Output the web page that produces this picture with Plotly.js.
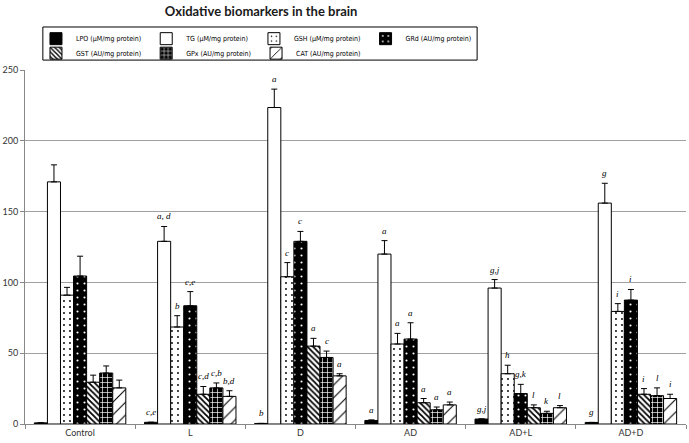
<!DOCTYPE html>
<html>
<head>
<meta charset="utf-8">
<script src="https://cdn.plot.ly/plotly-3.0.1.min.js"></script>
<style>
  html, body { margin: 0; padding: 0; background: #fff; }
  #Graph1 { width: 689px; height: 443px; }
</style>
</head>
<body>
<div id="Graph1"></div>
<script>
// groups on the x axis
let groups = ['Control', 'L', 'D', 'AD', 'AD+L', 'AD+D'];

// one array per biomarker (mean, then upper error)
let LPO = [0.8, 1.2, 0.4, 2.5, 3.5, 1.1];
let LPOerr = [0, 0, 0, 0.4, 0, 0];
let TG = [171, 129, 223.5, 120, 96, 156];
let TGerr = [12, 10.5, 13, 9.5, 6, 14];
let GSH = [91, 68.5, 104, 56.5, 35.5, 79.5];
let GSHerr = [5.5, 8, 10, 7.5, 6, 5.5];
let GRd = [104.5, 83.5, 129, 60, 21.5, 87.5];
let GRderr = [14, 10, 7, 11.5, 6.5, 7.5];
let GST = [29.5, 21, 55, 15, 11.5, 21];
let GSTerr = [5, 5.5, 5.5, 3, 2, 4];
let GPx = [36, 25.5, 47, 10, 7.5, 20];
let GPxerr = [5, 3.5, 4.5, 2, 1.5, 5.5];
let CAT = [25.5, 19.5, 34, 13.5, 11.5, 18];
let CATerr = [5.5, 4, 1.5, 2, 1.5, 3];

// significance letters above each bar
let LPOlab = ['', 'c,e', 'b', 'a', 'g,j', 'g'];
let TGlab = ['', 'a, d', 'a', 'a', 'g,j', 'g'];
let GSHlab = ['', 'b', 'c', 'a', 'h', 'i'];
let GRdlab = ['', 'c,e', 'c', 'a', 'g,k', 'i'];
let GSTlab = ['', 'c,d', 'a', 'a', 'l', 'i'];
let GPxlab = ['', 'c,b', 'c', 'a', 'k', 'l'];
let CATlab = ['', 'b,d', 'a', 'a', 'l', 'i'];

let names = ['LPO (µM/mg protein)', 'TG (µM/mg protein)', 'GSH (µM/mg protein)', 'GRd (AU/mg protein)',
             'GST (AU/mg protein)', 'GPx (AU/mg protein)', 'CAT (AU/mg protein)'];

let narrow = '"DejaVu Sans Condensed", Lato, sans-serif';

function MyChart(){

    let vals = [LPO, TG, GSH, GRd, GST, GPx, CAT];
    let errs = [LPOerr, TGerr, GSHerr, GRderr, GSTerr, GPxerr, CATerr];
    let labs = [LPOlab, TGlab, GSHlab, GRdlab, GSTlab, GPxlab, CATlab];

    let looks = [
        {color: '#000000', pattern: {shape: ''}},
        {color: '#ffffff', pattern: {shape: ''}},
        {color: '#ffffff', pattern: {shape: '.', bgcolor: '#ffffff', fgcolor: '#000000', size: 6, solidity: 0.08}},
        {color: '#000000', pattern: {shape: '.', bgcolor: '#000000', fgcolor: '#ffffff', size: 7, solidity: 0.07}},
        {color: '#ffffff', pattern: {shape: '\\', bgcolor: '#ffffff', fgcolor: '#000000', size: 4, solidity: 0.45}},
        {color: '#000000', pattern: {shape: '+', bgcolor: '#000000', fgcolor: '#ffffff', size: 5, solidity: 0.25}},
        {color: '#ffffff', pattern: {shape: '/', bgcolor: '#ffffff', fgcolor: '#000000', size: 9, solidity: 0.12}}
    ];

    let bargap = 0.17;
    let w = (1 - bargap) / vals.length;

    let data = [];
    let notes = [];

    for(let s = 0; s < vals.length; s++)
    {
        data.push({
            type: 'bar',
            name: names[s],
            x: groups,
            y: vals[s],
            legend: s < 4 ? 'legend' : 'legend2',
            marker: {
                color: looks[s].color,
                pattern: looks[s].pattern,
                line: {color: '#000000', width: 1}
            },
            error_y: {
                type: 'data',
                symmetric: false,
                array: errs[s],
                arrayminus: groups.map(() => 0),
                color: '#000000',
                thickness: 1,
                width: 3
            }
        });

        for(let g = 0; g < groups.length; g++)
        {
            if(labs[s][g] === '') continue;
            notes.push({
                x: g - (1 - bargap) / 2 + (s + 0.5) * w,
                y: vals[s][g] + errs[s][g],
                xref: 'x',
                yref: 'y',
                text: '<i>' + labs[s][g] + '</i>',
                showarrow: false,
                yanchor: 'bottom',
                yshift: 3,
                font: {family: 'Liberation Serif', size: 9, color: '#000000'}
            });
        }
    }

    let L1 = {
        width: 689,
        height: 443,
        margin: {l: 25, r: 3, t: 70, b: 19},
        paper_bgcolor: '#ffffff',
        plot_bgcolor: '#ffffff',
        font: {family: 'Lato', size: 9, color: '#333333'},
        title: {
            text: 'Oxidative biomarkers in the brain',
            font: {family: 'Lato', size: 13, weight: 'bold', color: '#1a1a1a'},
            x: 0.379,
            xanchor: 'center',
            y: 0.975,
            yanchor: 'middle'
        },
        barmode: 'group',
        bargap: bargap,
        bargroupgap: 0,
        showlegend: true,
        legend: {
            orientation: 'h',
            x: 0.0166, xanchor: 'left',
            y: 1.1295, yanchor: 'top',
            font: {family: narrow, size: 7, color: '#000000'},
            itemwidth: 30,
            bgcolor: 'rgba(0,0,0,0)'
        },
        legend2: {
            orientation: 'h',
            x: 0.0166, xanchor: 'left',
            y: 1.0885, yanchor: 'top',
            font: {family: narrow, size: 7, color: '#000000'},
            itemwidth: 30,
            bgcolor: 'rgba(0,0,0,0)'
        },
        shapes: [{
            type: 'rect',
            xref: 'paper', yref: 'paper',
            x0: 0.027, x1: 0.684,
            y0: 1.028, y1: 1.1215,
            line: {color: '#000000', width: 1}
        }],
        xaxis: {
            type: 'category',
            showline: true,
            linecolor: '#888888',
            ticks: 'outside',
            tickson: 'boundaries',
            ticklen: 4,
            tickcolor: '#888888',
            showgrid: false,
            tickfont: {size: 9, color: '#333333'}
        },
        yaxis: {
            range: [0, 250],
            dtick: 50,
            showline: true,
            linecolor: '#888888',
            ticks: 'outside',
            ticklen: 4,
            tickcolor: '#888888',
            gridcolor: '#a0a0a0',
            gridwidth: 1,
            zeroline: false,
            tickfont: {size: 9, color: '#333333'}
        },
        annotations: notes
    };

    Plotly.newPlot('Graph1', data, L1, {displayModeBar: false, staticPlot: true});
}

MyChart();
</script>
</body>
</html>
